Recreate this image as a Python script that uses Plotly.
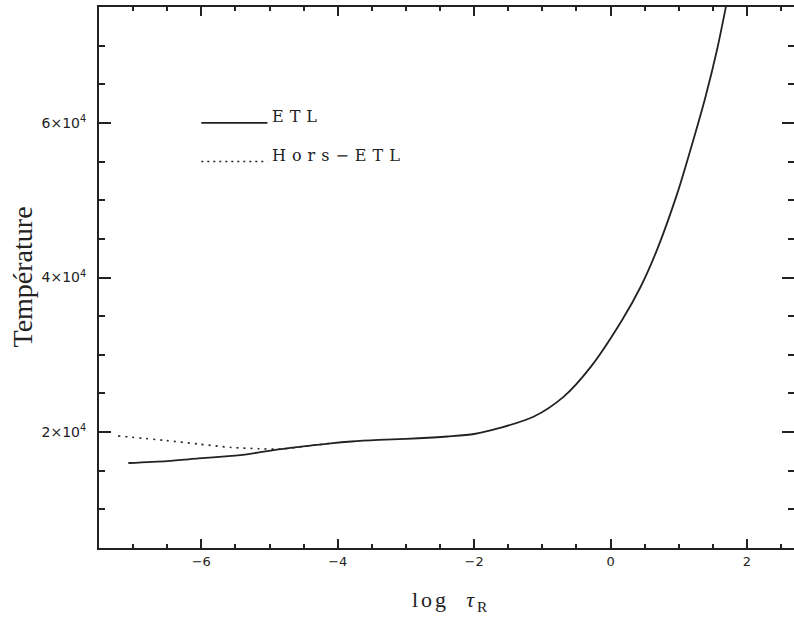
import plotly.graph_objects as go

# ETL (LTE) temperature structure
log_tau_etl = [-7.07, -6.5, -6.04, -5.6, -5.31, -4.83, -4.4, -4.1, -3.8, -3.4,
               -3.0, -2.6, -2.39, -2.0, -1.61, -1.13, -0.69, -0.29, 0.17, 0.44,
               0.68, 0.98, 1.17, 1.39, 1.56, 1.69, 1.75]
temp_etl = [16000, 16250, 16590, 16900, 17160, 17800, 18250, 18550, 18780, 18980,
            19120, 19300, 19430, 19750, 20560, 21980, 24560, 28440, 34510, 38770,
            43550, 50920, 56470, 63300, 69400, 74950, 77700]

# Hors-ETL (NLTE) temperature structure (merges with ETL deeper in)
log_tau_nlte = [-7.22, -6.53, -6.04, -5.56, -5.16, -4.83, -4.4, -4.1]
temp_nlte = [19500, 18920, 18450, 18010, 17850, 17800, 18250, 18550]

x_tickvals = [-6, -4, -2, 0, 2]
x_ticktext = ["−6", "−4", "−2", "0", "2"]
y_tickvals = [20000, 40000, 60000]
y_ticktext = ["2×10<sup>4</sup>", "4×10<sup>4</sup>", "6×10<sup>4</sup>"]

legend_labels = ["ETL", "Hors−ETL"]

INK = "#222222"
xtickfont = dict(family="DejaVu Sans", size=13, color=INK)
ytickfont = dict(family="DejaVu Sans", size=14, color=INK)

fig = go.Figure()
fig.add_trace(go.Scatter(x=log_tau_nlte, y=temp_nlte, mode="lines",
                         line=dict(color=INK, width=1.6, dash="2px,5px", shape="spline", smoothing=0.8),
                         name=legend_labels[1], showlegend=False, hoverinfo="skip"))
fig.add_trace(go.Scatter(x=log_tau_etl, y=temp_etl, mode="lines",
                         line=dict(color=INK, width=1.8, shape="spline", smoothing=0.8),
                         name=legend_labels[0], showlegend=False, hoverinfo="skip"))
# dummy trace for right-hand tick axis
fig.add_trace(go.Scatter(x=[None], y=[None], yaxis="y2", showlegend=False, hoverinfo="skip"))

fig.update_layout(
    width=794, height=618,
    margin=dict(l=99, r=0, t=7, b=70),
    plot_bgcolor="white", paper_bgcolor="white",
    xaxis=dict(range=[-7.5, 2.69], showline=True, linecolor=INK, linewidth=2,
               mirror="ticks", ticks="inside", ticklen=9, tickwidth=1.5, tickcolor=INK,
               tickmode="array", tickvals=x_tickvals, ticktext=x_ticktext,
               minor=dict(tickmode="linear", tick0=0, dtick=0.5, ticks="inside",
                          ticklen=4, tickwidth=1.5, tickcolor=INK),
               showgrid=False, zeroline=False, tickfont=xtickfont, ticklabelstandoff=0),
    yaxis=dict(range=[5000, 75000], showline=True, linecolor=INK, linewidth=2,
               mirror=False, ticks="inside", ticklen=12, tickwidth=1.5, tickcolor=INK,
               tickmode="array", tickvals=y_tickvals, ticktext=y_ticktext,
               minor=dict(tickmode="linear", tick0=0, dtick=5000, ticks="inside",
                          ticklen=6, tickwidth=1.5, tickcolor=INK),
               showgrid=False, zeroline=False, tickfont=ytickfont, ticklabelstandoff=8),
    yaxis2=dict(range=[5000, 75000], overlaying="y", side="right", showline=False,
                ticks="inside", ticklen=12, tickwidth=1.5, tickcolor=INK,
                tickmode="array", tickvals=y_tickvals, showticklabels=False,
                minor=dict(tickmode="linear", tick0=0, dtick=5000, ticks="inside",
                           ticklen=6, tickwidth=1.5, tickcolor=INK),
                showgrid=False, zeroline=False),
    showlegend=False,
)

# legend samples
fig.add_shape(type="line", xref="x", yref="y", x0=-6.0, x1=-5.03, y0=60000, y1=60000,
              line=dict(color=INK, width=1.8))
fig.add_shape(type="line", xref="x", yref="y", x0=-6.0, x1=-5.03, y0=55000, y1=55000,
              line=dict(color=INK, width=1.6, dash="2px,4px"))
legfont = dict(family="DejaVu Serif", size=16, color=INK)
fig.add_annotation(x=-4.99, y=60000, xref="x", yref="y", xanchor="left", yanchor="bottom",
                   yshift=-5, showarrow=False, font=legfont,
                   text='<span style="letter-spacing:6px">' + legend_labels[0] + '</span>')
fig.add_annotation(x=-4.99, y=55000, xref="x", yref="y", xanchor="left", yanchor="bottom",
                   yshift=-5, showarrow=False, font=legfont,
                   text='<span style="letter-spacing:6px">' + legend_labels[1] + '</span>')

# axis titles
fig.add_annotation(x=0.5, y=0, xref="paper", yref="paper", xanchor="center", yanchor="top",
                   xshift=4, yshift=-37, showarrow=False,
                   font=dict(family="Liberation Serif", size=22, color=INK),
                   text='<span style="letter-spacing:3px">log  <i>τ</i><sub>R</sub></span>')
fig.add_annotation(x=0, y=0.5, xref="paper", yref="paper", xanchor="center", yanchor="middle",
                   xshift=-77, textangle=-90, showarrow=False,
                   font=dict(family="Liberation Serif", size=28, color=INK),
                   text="Température")

fig.write_html("out.html")
